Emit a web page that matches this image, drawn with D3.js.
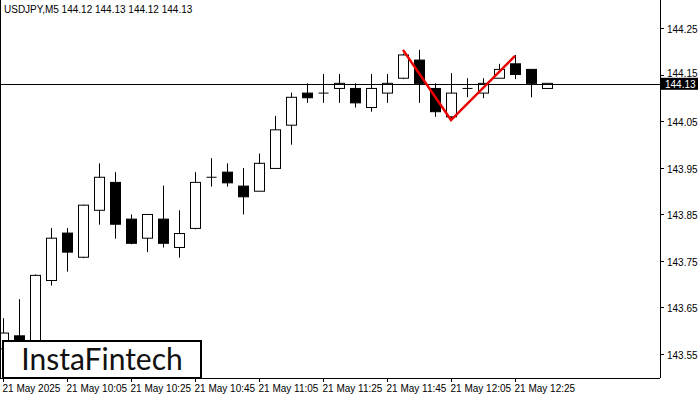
<!DOCTYPE html>
<html><head><meta charset="utf-8">
<script src="https://cdn.jsdelivr.net/npm/d3@7/dist/d3.min.js"></script>
<style>body{margin:0;background:#fff}svg{display:block;font-family:"Liberation Sans",Arial,sans-serif}</style>
</head><body>
<svg id="c" width="700" height="400"></svg>
<script>
const opens  = [143.56,143.588,143.55,143.707,143.809,143.757,143.858,143.918,143.839,143.798,143.839,143.778,143.819,143.929,143.940,143.910,143.899,143.948,144.041,144.110,144.110,144.120,144.120,144.079,144.110,144.142,144.181,144.120,144.059,144.120,144.110,144.142,144.173,144.161,144.120];
const highs  = [143.626,143.667,143.72,143.820,143.820,143.870,143.959,143.940,143.849,143.849,143.911,143.858,143.940,143.970,143.959,143.949,143.980,144.061,144.111,144.131,144.151,144.151,144.131,144.151,144.151,144.195,144.203,144.131,144.153,144.142,144.142,144.173,144.192,144.161,144.131];
const lows   = [143.54,143.53,143.53,143.696,143.726,143.755,143.827,143.797,143.785,143.768,143.778,143.756,143.817,143.909,143.909,143.849,143.899,143.948,143.999,144.089,144.089,144.089,144.079,144.070,144.089,144.140,144.089,144.059,144.052,144.101,144.099,144.142,144.140,144.101,144.120];
const closes = [143.594,143.575,143.718,143.798,143.768,143.869,143.929,143.828,143.787,143.849,143.787,143.808,143.918,143.929,143.917,143.887,143.959,144.031,144.101,144.100,144.110,144.131,144.089,144.120,144.131,144.192,144.131,144.070,144.110,144.120,144.131,144.161,144.150,144.131,144.131];
const yTicks = [144.25,144.15,144.05,143.95,143.85,143.75,143.65,143.55];
const xLabels = [[0,"21 May 2025"],[4,"21 May 10:05"],[8,"21 May 10:25"],[12,"21 May 10:45"],[16,"21 May 11:05"],[20,"21 May 11:25"],[24,"21 May 11:45"],[28,"21 May 12:05"],[32,"21 May 12:25"]];
const pattern = [[25,144.203],[28,144.052],[32,144.19]];
const lastPrice = 144.13;

const svg = d3.select("#c");
const x = d3.scaleLinear().domain([0,1]).range([3,19]);
const y = d3.scaleLinear().domain([144.25,144.05]).range([28,121]);
const R = 660, B = 378;
const g = svg.append("g");
opens.forEach((o,i)=>{
  const c = closes[i], cx = Math.round(x(i))+0.5;
  g.append("line").attr("x1",cx).attr("x2",cx).attr("y1",y(highs[i])).attr("y2",y(lows[i])).attr("stroke","#000");
  const top = y(Math.max(o,c)), bot = y(Math.min(o,c));
  if (Math.abs(bot-top) < 1.5) {
    g.append("line").attr("x1",cx-5).attr("x2",cx+5).attr("y1",top).attr("y2",top).attr("stroke","#000");
  } else {
    g.append("rect").attr("x",cx-5).attr("y",top).attr("width",10).attr("height",bot-top)
      .attr("fill", c>=o ? "#fff" : "#000").attr("stroke","#000");
  }
});
svg.append("line").attr("x1",0).attr("x2",R).attr("y1",Math.round(y(lastPrice))+0.5).attr("y2",Math.round(y(lastPrice))+0.5).attr("stroke","#000");
svg.append("path").attr("d",d3.line().x(d=>x(d[0])).y(d=>y(d[1]))(pattern)).attr("fill","none").attr("stroke","#e00").attr("stroke-width",2.5);
svg.append("line").attr("x1",R+0.5).attr("x2",R+0.5).attr("y1",0).attr("y2",B).attr("stroke","#000");
svg.append("line").attr("x1",0).attr("x2",R).attr("y1",B+0.5).attr("y2",B+0.5).attr("stroke","#000");
svg.append("line").attr("x1",0.5).attr("x2",0.5).attr("y1",0).attr("y2",B).attr("stroke","#000");
yTicks.filter(v=>Math.abs(v-lastPrice)>0.03).forEach(v=>{
  const yy = Math.round(y(v))+0.5;
  svg.append("line").attr("x1",R).attr("x2",R+4).attr("y1",yy).attr("y2",yy).attr("stroke","#000");
  svg.append("text").attr("x",667).attr("y",yy+4).attr("font-size",10).text(v.toFixed(2));
});
yTicks.filter(v=>Math.abs(v-lastPrice)<=0.03).forEach(v=>{
  const yy = Math.round(y(v))+0.5;
  svg.append("line").attr("x1",R).attr("x2",R+4).attr("y1",yy).attr("y2",yy).attr("stroke","#000");
  svg.append("text").attr("x",667).attr("y",yy+1).attr("font-size",10).text(v.toFixed(2));
});
const ly = y(lastPrice);
svg.append("rect").attr("x",661).attr("y",ly-6).attr("width",37).attr("height",12).attr("fill","#000");
svg.append("text").attr("x",665).attr("y",ly+4).attr("font-size",10).attr("fill","#fff").text(lastPrice.toFixed(2));
xLabels.forEach(([i,t])=>{
  const xx = Math.round(x(i))+0.5;
  svg.append("line").attr("x1",xx).attr("x2",xx).attr("y1",B).attr("y2",B+4).attr("stroke","#000");
  svg.append("text").attr("x",xx-1).attr("y",392).attr("font-size",10).text(t);
});
svg.append("text").attr("x",4).attr("y",13).attr("font-size",10).text("USDJPY,M5  144.12 144.13 144.12 144.13");
svg.append("rect").attr("x",3).attr("y",341).attr("width",198).attr("height",37).attr("fill","#fff").attr("stroke","#000").attr("stroke-width",2);
svg.append("text").attr("x",102).attr("y",370).attr("text-anchor","middle").attr("font-size",30).attr("font-family","Lato, sans-serif").attr("fill","#111").text("InstaFintech");
</script>
</body></html>
